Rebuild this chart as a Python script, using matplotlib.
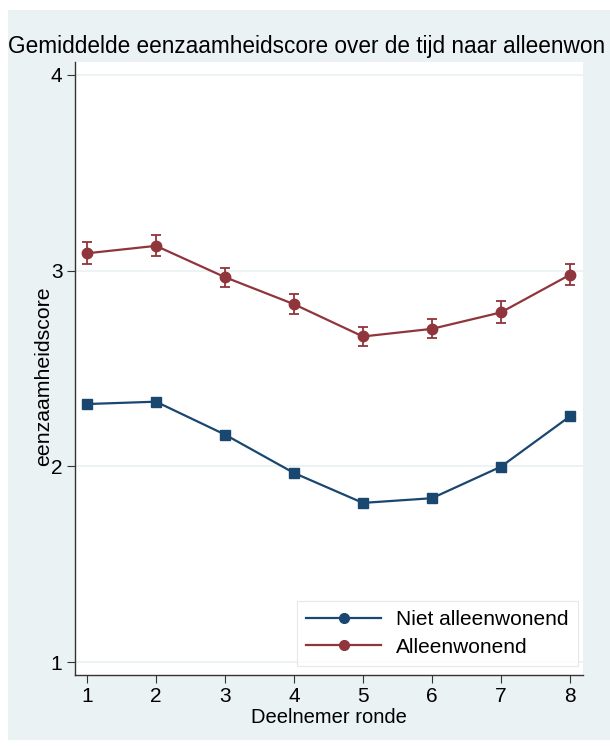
import numpy as np
import matplotlib.pyplot as plt
from matplotlib.lines import Line2D
from matplotlib.patches import Rectangle

plt.rcParams['font.family'] = ['Liberation Sans', 'DejaVu Sans']

# data
rondes = [1, 2, 3, 4, 5, 6, 7, 8]
niet_alleen = [2.318, 2.330, 2.162, 1.966, 1.813, 1.837, 1.998, 2.255]
niet_alleen_err = [0.018, 0.018, 0.016, 0.018, 0.016, 0.016, 0.02, 0.02]
alleen = [3.088, 3.126, 2.966, 2.828, 2.663, 2.702, 2.786, 2.978]
alleen_err = [0.056, 0.053, 0.049, 0.051, 0.051, 0.049, 0.056, 0.054]
series_labels = ['Niet alleenwonend', 'Alleenwonend']
y_ticks = [1, 2, 3, 4]

NAVY = '#1A476F'
MAROON = '#90353B'
BG = '#EAF2F3'

fig = plt.figure(figsize=(6.1, 7.46), dpi=100, facecolor='white')
fig.patches.append(Rectangle((8 / 610, 6 / 746), 1, 730 / 746, transform=fig.transFigure,
                             facecolor=BG, edgecolor='none', zorder=-10))

ax = fig.add_axes([75 / 610, 1 - 675 / 746, (583 - 75) / 610, (675 - 62) / 746])
ax.set_facecolor('white')

ax.errorbar(rondes, niet_alleen, yerr=niet_alleen_err, color=NAVY, marker='s', markersize=7,
            linewidth=1.6, capsize=3.5, elinewidth=1.3, capthick=1.3, zorder=3)
ax.errorbar(rondes, alleen, yerr=alleen_err, color=MAROON, marker='o', markersize=7.5,
            linewidth=1.6, capsize=3.5, elinewidth=1.3, capthick=1.3, zorder=3)

ax.set_xlim(0.826, 8.19)
ax.set_ylim(0.934, 4.065)
ax.set_xticks(rondes)
ax.set_yticks(y_ticks)
for t in y_ticks:
    ax.axhline(t, color=BG, linewidth=1.3, zorder=1)

for s in ['top', 'right']:
    ax.spines[s].set_visible(False)
for s in ['left', 'bottom']:
    ax.spines[s].set_color('#333333')
    ax.spines[s].set_linewidth(1.0)
ax.tick_params(axis='both', labelsize=15, color='#333333', length=6, width=0.8, pad=3)

ax.set_xlabel('Deelnemer ronde', fontsize=14.5, labelpad=1)
ax.set_ylabel('eenzaamheidscore', fontsize=15.3)
# sits just below the "3" tick label, tucked in near the axis
ax.yaxis.set_label_coords(-0.044, 0.488)

# the original shows the title cut off after "alleenwon"
fig.text(8 / 610, 1 - 47 / 746, 'Gemiddelde eenzaamheidscore over de tijd naar alleenwon',
         fontsize=16.3, ha='left', va='center')

handles = [Line2D([], [], color=NAVY, marker='o', markersize=7, linewidth=1.6),
           Line2D([], [], color=MAROON, marker='o', markersize=7, linewidth=1.6)]
leg = ax.legend(handles, series_labels, loc='lower right', bbox_to_anchor=(0.99, 0.0147),
                borderaxespad=0, fontsize=15, frameon=True, fancybox=False, handlelength=3.6,
                borderpad=0.45, labelspacing=0.4, handletextpad=0.7)
leg.get_frame().set_edgecolor('#E2E2E2')
leg.get_frame().set_linewidth(0.8)

fig.savefig('out.png', dpi=100, facecolor='white')
